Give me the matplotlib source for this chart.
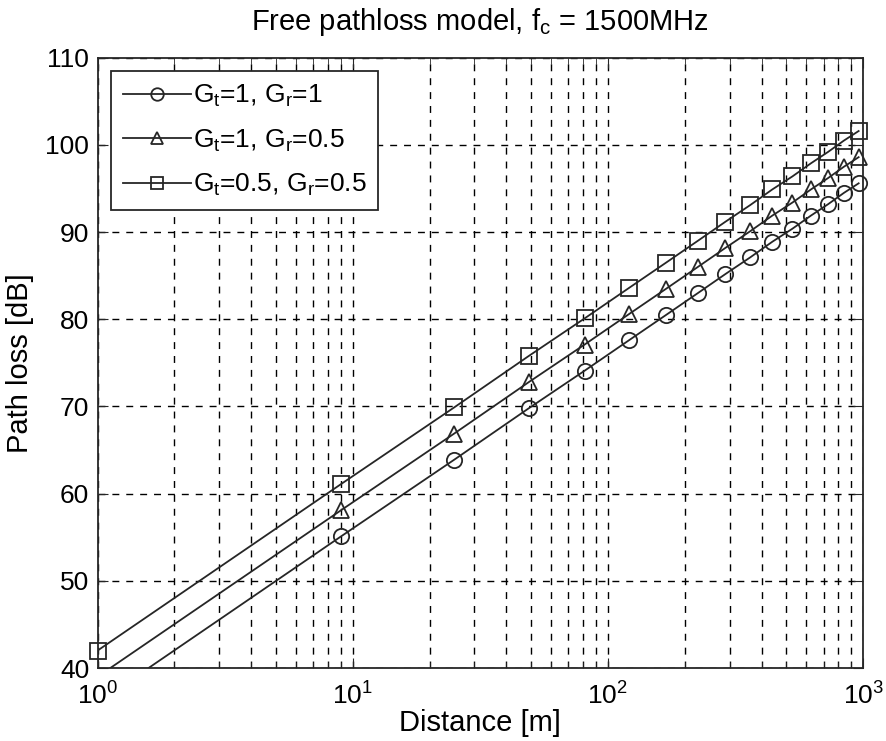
import numpy as np
import matplotlib
matplotlib.use("Agg")
import matplotlib.pyplot as plt

plt.rcParams['font.family'] = ['Liberation Sans', 'DejaVu Sans']
plt.rcParams['mathtext.fontset'] = 'custom'
plt.rcParams['mathtext.rm'] = 'Liberation Sans'
plt.rcParams['mathtext.it'] = 'Liberation Sans'

distance = [1, 9, 25, 49, 81, 121, 169, 225, 289, 361, 441, 529, 625, 729, 841, 961]
pl_g1_g1 = [36.0, 55.1, 63.9, 69.8, 74.1, 77.6, 80.5, 83.0, 85.2, 87.1, 88.9, 90.4, 91.9, 93.2, 94.5, 95.6]
pl_g1_g05 = [39.0, 58.1, 66.9, 72.8, 77.1, 80.6, 83.5, 86.0, 88.2, 90.1, 91.9, 93.4, 94.9, 96.2, 97.5, 98.6]
pl_g05_g05 = [42.0, 61.1, 69.9, 75.8, 80.1, 83.6, 86.5, 89.0, 91.2, 93.1, 94.9, 96.4, 97.9, 99.2, 100.5, 101.6]
labels = ['$\\mathregular{G_t}$=1, $\\mathregular{G_r}$=1',
          '$\\mathregular{G_t}$=1, $\\mathregular{G_r}$=0.5',
          '$\\mathregular{G_t}$=0.5, $\\mathregular{G_r}$=0.5']
markers = ['o', '^', 's']

ink = '#262626'
fig = plt.figure(figsize=(8.87, 7.41), dpi=100)
ax = fig.add_axes([0.110, 0.0985, 0.863, 0.8235])
ymin, ymax = 40, 110
d = np.array(distance)
for vals, m, lab in zip([pl_g1_g1, pl_g1_g05, pl_g05_g05], markers, labels):
    v = np.array(vals)
    ax.plot(d, v, color=ink, lw=1.3, zorder=3)
    mask = v >= ymin
    ax.plot(d[mask], v[mask], ls='none', marker=m, ms=11, mfc='none',
            mec=ink, mew=1.3, clip_on=False, zorder=4)
    ax.plot([], [], color=ink, lw=1.3, marker=m, ms=9, mfc='none',
            mec=ink, mew=1.3, label=lab)

ax.set_xscale('log')
ax.set_xlim(1, 1000)
ax.set_ylim(ymin, ymax)
ax.set_yticks(range(40, 111, 10))
ax.grid(True, which='major', ls=(0, (5, 5)), color='black', lw=1)
ax.grid(True, which='minor', axis='x', ls=(0, (5, 5)), color='black', lw=1)
ax.tick_params(which='both', direction='in', labelsize=19, top=True, right=True,
               length=7, color=ink)
ax.tick_params(which='minor', length=4)
ax.tick_params(axis='x', pad=10)
ax.tick_params(axis='y', pad=6)
for s in ax.spines.values():
    s.set_color(ink)
    s.set_linewidth(1.3)
ax.set_xlabel('Distance [m]', fontsize=21, labelpad=0)
ax.set_ylabel('Path loss [dB]', fontsize=21, labelpad=8)
ax.set_title('Free pathloss model, $\\mathregular{f_c}$ = 1500MHz', fontsize=21, pad=20)
leg = ax.legend(loc='upper left', fontsize=19, frameon=True, fancybox=False,
                edgecolor=ink, handlelength=2.6, borderpad=0.45,
                labelspacing=0.7, borderaxespad=0.5, handletextpad=0.05)
leg.get_frame().set_linewidth(1.3)
leg.get_frame().set_alpha(1)
fig.savefig('out.png', dpi=100)
